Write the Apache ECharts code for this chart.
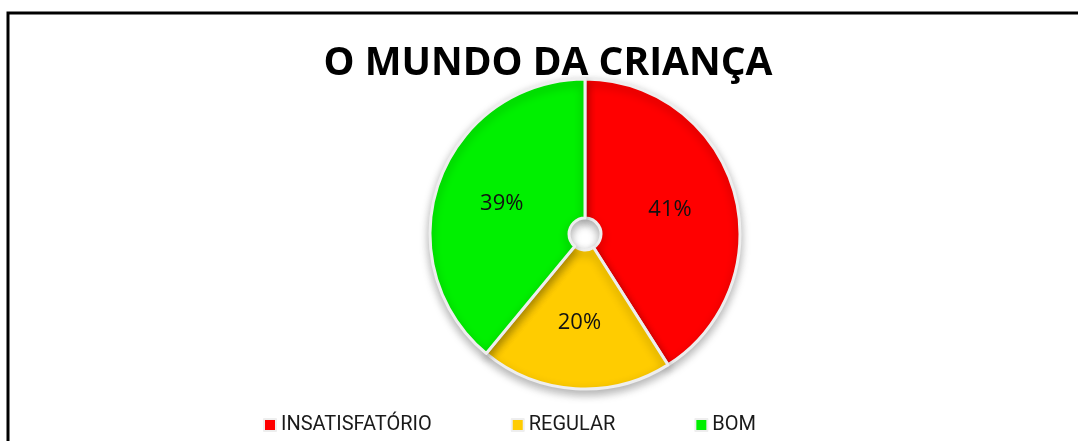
<!DOCTYPE html>
<html>
<head>
<meta charset="utf-8">
<script src="https://cdn.jsdelivr.net/npm/echarts@6/dist/echarts.min.js"></script>
<style>
  html, body { margin: 0; padding: 0; background: #fff; }
  #chart { width: 1078px; height: 441px; }
</style>
</head>
<body>
<div id="chart"></div>
<script>
const categories = ["INSATISFATÓRIO", "REGULAR", "BOM"];
const values = [41, 20, 39];
const colors = ["#ff0000", "#ffcc00", "#00f000"];

var chart = echarts.init(document.getElementById("chart"));

var option = {
  animation: false,
  color: colors,
  title: {
    text: "O MUNDO DA CRIANÇA",
    left: 543,
    top: 39,
    textAlign: "center",
    textStyle: {
      fontFamily: "Open Sans",
      fontWeight: "bold",
      fontSize: 39,
      color: "#000",
    },
  },
  graphic: [
    {
      type: "polyline",
      shape: { points: [[8, 441], [8, 13], [1078, 13]] },
      style: { stroke: "#000", lineWidth: 3, fill: null },
    },
  ],
  legend: {
    left: 258,
    top: 410,
    itemWidth: 12,
    itemHeight: 12,
    itemGap: 79,
    icon: "rect",
    textStyle: {
      fontFamily: "Roboto",
      fontSize: 20,
      color: "#1a1a1a",
    },
    data: categories,
  },
  series: [
    {
      type: "pie",
      center: [585, 234],
      radius: [16, 155],
      startAngle: 90,
      clockwise: true,
      label: {
        show: true,
        position: "inside",
        formatter: "{c}%",
        fontFamily: "Open Sans",
        fontSize: 22,
        color: "#111",
      },
      labelLine: { show: false },
      itemStyle: {
        borderColor: "#eeeeee",
        borderWidth: 3,
        shadowColor: "rgba(0,0,0,0.3)",
        shadowBlur: 10,
        shadowOffsetY: 4,
      },
      emphasis: { disabled: true },
      data: categories.map(function (name, i) {
        return { name: name, value: values[i] };
      }),
    },
  ],
};
chart.setOption(option);
</script>
</body>
</html>
